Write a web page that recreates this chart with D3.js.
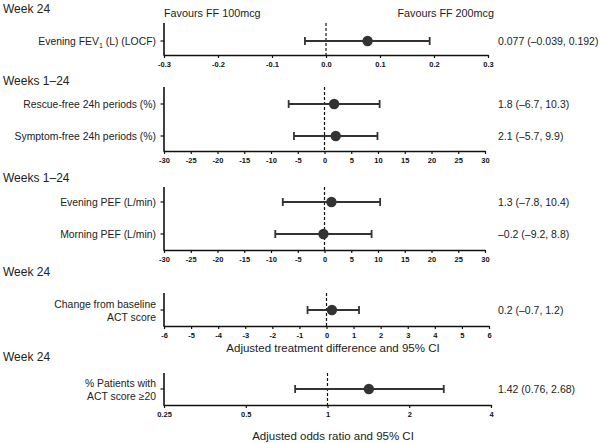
<!DOCTYPE html>
<html>
<head>
<meta charset="utf-8">
<script src="https://cdn.jsdelivr.net/npm/d3@7"></script>
<style>
  html, body { margin: 0; padding: 0; background: #fff; }
  svg { display: block; font-family: "Liberation Sans", Arial, Helvetica, sans-serif; }
</style>
</head>
<body>
<svg id="chart" width="600" height="443"></svg>
<script>
// ---------- data ----------
const panelTitles = ["Week 24", "Weeks 1\u201324", "Weeks 1\u201324", "Week 24", "Week 24"];
const rowLabels = [
  [["Evening FEV\u2081 (L) (LOCF)"]],
  [["Rescue-free 24h periods (%)"], ["Symptom-free 24h periods (%)"]],
  [["Evening PEF (L/min)"], ["Morning PEF (L/min)"]],
  [["Change from baseline", "ACT score"]],
  [["% Patients with", "ACT score \u226520"]]
];
const estimates = [[0.077], [1.8, 2.1], [1.3, -0.2], [0.2], [1.42]];
const lowerCI   = [[-0.039], [-6.7, -5.7], [-7.8, -9.2], [-0.7], [0.76]];
const upperCI   = [[0.192], [10.3, 9.9], [10.4, 8.8], [1.2], [2.68]];
const valueLabels = [
  ["0.077 (\u20130.039, 0.192)"],
  ["1.8 (\u20136.7, 10.3)", "2.1 (\u20135.7, 9.9)"],
  ["1.3 (\u20137.8, 10.4)", "\u20130.2 (\u20139.2, 8.8)"],
  ["0.2 (\u20130.7, 1.2)"],
  ["1.42 (0.76, 2.68)"]
];
const axisDomains = [[-0.3, 0.3], [-30, 30], [-30, 30], [-6, 6], [0.25, 4]];
const axisTicks = [
  [-0.3, -0.2, -0.1, 0.0, 0.1, 0.2, 0.3],
  [-30, -25, -20, -15, -10, -5, 0, 5, 10, 15, 20, 25, 30],
  [-30, -25, -20, -15, -10, -5, 0, 5, 10, 15, 20, 25, 30],
  [-6, -5, -4, -3, -2, -1, 0, 1, 2, 3, 4, 5, 6],
  [0.25, 0.5, 1, 2, 4]
];
const loc = d3.formatLocale({ decimal: ".", thousands: ",", grouping: [3], currency: ["", ""], minus: "-" });
const tickFormats = [loc.format(".1f"), loc.format("d"), loc.format("d"), loc.format("d"), d => String(d)];
const nullValues = [0, 0, 0, 0, 1];
const logScale = [false, false, false, false, true];
const favourLabels = ["Favours FF 100mcg", "Favours FF 200mcg"];
const axisTitles = ["Adjusted treatment difference and 95% CI", "Adjusted odds ratio and 95% CI"];

// ---------- layout ----------
const layout = [
  { titleY: 13,  top: 23,  axisY: 55,  rows: [41],       x0: 164, x1: 488 },
  { titleY: 85,  top: 87,  axisY: 151, rows: [104, 136], x0: 164, x1: 485 },
  { titleY: 182, top: 187, axisY: 250, rows: [202, 234], x0: 164, x1: 485 },
  { titleY: 276, top: 293, axisY: 326, rows: [310],      x0: 164, x1: 489 },
  { titleY: 361, top: 373, axisY: 405, rows: [389],      x0: 164, x1: 491 }
];
const ink = "#333333";
const svg = d3.select("#chart");

panelTitles.forEach((title, p) => {
  const L = layout[p];
  const x = (logScale[p] ? d3.scaleLog().base(2) : d3.scaleLinear())
    .domain(axisDomains[p]).range([L.x0, L.x1]);
  const g = svg.append("g");

  g.append("text").attr("x", 3).attr("y", L.titleY)
    .attr("font-size", 12).attr("fill", "#222").text(title);

  // x axis
  const ax = g.append("g").attr("transform", `translate(0,${L.axisY})`)
    .call(d3.axisBottom(x).tickValues(axisTicks[p]).tickFormat(tickFormats[p])
      .tickSize(3).tickSizeOuter(0).tickPadding(4));
  ax.select(".domain").attr("stroke", "#111").attr("stroke-width", 1.6);
  ax.selectAll(".tick line").attr("stroke", "#111").attr("stroke-width", 1.2);
  ax.selectAll(".tick text").attr("font-size", 7.5).attr("font-weight", "bold")
    .attr("fill", "#111").attr("font-family", "'Liberation Sans', Arial, sans-serif");

  // y axis line
  g.append("line").attr("x1", L.x0).attr("x2", L.x0)
    .attr("y1", L.top).attr("y2", L.axisY + 0.8)
    .attr("stroke", "#111").attr("stroke-width", 1.6);

  // null reference line
  g.append("line").attr("x1", x(nullValues[p])).attr("x2", x(nullValues[p]))
    .attr("y1", L.top).attr("y2", L.axisY)
    .attr("stroke", "#111").attr("stroke-width", 1.2).attr("stroke-dasharray", "3,2");

  estimates[p].forEach((est, i) => {
    const y = L.rows[i];
    // y tick
    g.append("line").attr("x1", L.x0 - 3.5).attr("x2", L.x0).attr("y1", y).attr("y2", y)
      .attr("stroke", "#111").attr("stroke-width", 1.2);
    // row label
    const lines = rowLabels[p][i];
    const lh = 13;
    lines.forEach((t, k) => {
      const ty = y + 4 + (k - (lines.length - 1) / 2) * lh;
      const txt = g.append("text").attr("x", 156).attr("y", ty)
        .attr("text-anchor", "end").attr("font-size", 10.4).attr("fill", "#222");
      if (t.includes("\u2081")) {
        const parts = t.split("\u2081");
        txt.append("tspan").text(parts[0]);
        txt.append("tspan").attr("font-size", 7).attr("dy", 2.5).text("1");
        txt.append("tspan").attr("dy", -2.5).text(parts[1]);
      } else {
        txt.text(t);
      }
    });
    // CI line
    const xl = x(lowerCI[p][i]), xu = x(upperCI[p][i]);
    g.append("line").attr("x1", xl).attr("x2", xu).attr("y1", y).attr("y2", y)
      .attr("stroke", ink).attr("stroke-width", 2);
    [xl, xu].forEach(xc => g.append("line").attr("x1", xc).attr("x2", xc)
      .attr("y1", y - 4).attr("y2", y + 4).attr("stroke", ink).attr("stroke-width", 1.8));
    g.append("circle").attr("cx", x(est)).attr("cy", y).attr("r", 5.2).attr("fill", ink);
    // value label
    g.append("text").attr("x", 498).attr("y", y + 4)
      .attr("font-size", 10.5).attr("fill", "#222").text(valueLabels[p][i]);
  });

  if (p === 0) {
    g.append("text").attr("x", L.x0).attr("y", 17).attr("font-size", 10.8)
      .attr("fill", "#222").text(favourLabels[0]);
    g.append("text").attr("x", L.x1 + 6).attr("y", 17).attr("text-anchor", "end")
      .attr("font-size", 10.8).attr("fill", "#222").text(favourLabels[1]);
  }
  if (p === 3) {
    g.append("text").attr("x", 333).attr("y", 352).attr("text-anchor", "middle")
      .attr("font-size", 11.5).attr("fill", "#222").text(axisTitles[0]);
  }
  if (p === 4) {
    g.append("text").attr("x", 333).attr("y", 440).attr("text-anchor", "middle")
      .attr("font-size", 11.5).attr("fill", "#222").text(axisTitles[1]);
  }
});
</script>
</body>
</html>
